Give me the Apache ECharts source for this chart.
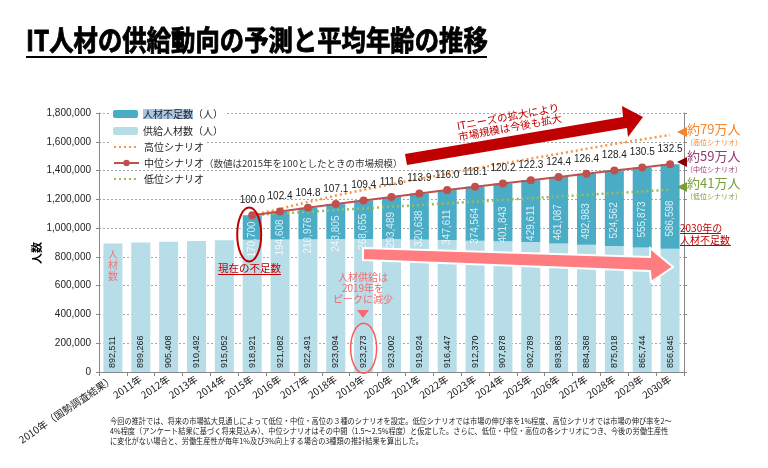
<!DOCTYPE html>
<html><head><meta charset="utf-8">
<script src="https://cdn.jsdelivr.net/npm/echarts@6/dist/echarts.min.js"></script>
<style>html,body{margin:0;padding:0;background:#fff}#c{width:768px;height:468px}</style>
</head><body><div id="c"></div>
<script>
// ---- data ----
const categories = ['2010年（国勢調査結果）','2011年','2012年','2013年','2014年','2015年','2016年','2017年','2018年','2019年','2020年','2021年','2022年','2023年','2024年','2025年','2026年','2027年','2028年','2029年','2030年'];
const supply = [892511,899266,905408,910492,915052,918921,921082,922491,923094,923273,923002,919924,916447,912370,907878,902789,893863,884368,875018,865744,856845];
const shortage = [null,null,null,null,null,170700,194608,218976,243805,268655,293489,320638,347611,374564,401843,429611,461087,492983,524562,555873,586598];
const marketIndex = [null,null,null,null,null,100.0,102.4,104.8,107.1,109.4,111.6,113.9,116.0,118.1,120.2,122.3,124.4,126.4,128.4,130.5,132.5];
const highScenario = [null,null,null,null,null,1089621,1135000,1181000,1226000,1266000,1305000,1342000,1378000,1414000,1449000,1483000,1517000,1551000,1585000,1617000,1647000];
const lowScenario = [null,null,null,null,null,1089621,1101000,1113000,1125000,1137000,1149000,1160000,1172000,1184000,1196000,1208000,1220000,1232000,1243000,1255000,1267000];
const yMin = 0, yMax = 1800000, yInterval = 200000;

const midScenario = supply.map((s, i) => shortage[i] == null ? null : s + shortage[i]);
const shortageLabelPts = supply.map((s, i) => shortage[i] == null ? null : { value: [i, s + shortage[i] / 2], lab: shortage[i] }).filter(d => d);
const FONT = '"Noto Sans CJK JP","Noto Sans",sans-serif';
const fmt = v => Number(v).toLocaleString('en-US');

const chart = echarts.init(document.getElementById('c'));

function legendAt(name, top, hideSymbol) {
  const lg = {
    data: [name], left: 111, top: top, orient: 'vertical',
    itemWidth: 25, itemHeight: 8, itemGap: 0,
    backgroundColor: '#fff', padding: [1, 3, 1, 2],
    textStyle: { fontFamily: FONT, fontSize: 10, color: '#222',
      rich: { h: { backgroundColor: '#A9C5E2', fontFamily: FONT, fontSize: 10, color: '#222' },
              s: { fontFamily: FONT, fontSize: 9.5, color: '#333' } } },
    formatter: n => n === '人材不足数（人）' ? '{h|人材不足数}（人）'
                  : n === '中位シナリオ' ? '中位シナリオ{s|（数値は2015年を100としたときの市場規模）}' : n,
    selectedMode: false
  };
  if (hideSymbol) lg.itemStyle = { opacity: 0 };
  return lg;
}

const option = {
  animation: false,
  textStyle: { fontFamily: FONT },
  grid: { left: 99, right: 84, top: 113, bottom: 96, containLabel: false },
  legend: [
    legendAt('人材不足数（人）', 108),
    legendAt('供給人材数（人）', 125),
    legendAt('高位シナリオ', 141, true),
    legendAt('中位シナリオ', 157),
    legendAt('低位シナリオ', 173, true)
  ],
  xAxis: {
    type: 'category', data: categories, boundaryGap: true,
    axisLine: { lineStyle: { color: '#888' } },
    axisTick: { show: true, length: 4, lineStyle: { color: '#888' } },
    axisLabel: { interval: 0, rotate: 34, fontSize: 10, color: '#222', margin: 6, fontFamily: FONT }
  },
  yAxis: [{
    type: 'value', min: yMin, max: yMax, interval: yInterval,
    axisLine: { show: true, lineStyle: { color: '#888' } },
    axisTick: { show: true, length: 3, lineStyle: { color: '#888' } },
    axisLabel: { formatter: v => fmt(v), fontSize: 10, color: '#222', margin: 8, fontFamily: 'Liberation Sans' },
    splitLine: { lineStyle: { color: '#a8a8a8', type: [2, 2] } }
  }, {
    type: 'value', min: yMin, max: yMax, interval: yInterval, position: 'right',
    axisLine: { show: true, lineStyle: { color: '#888' } },
    axisTick: { show: true, length: 3, lineStyle: { color: '#888' } },
    axisLabel: { show: false }, splitLine: { show: false }
  }],
  series: [
    {
      name: '供給人材数（人）', type: 'bar', stack: 'a', data: supply, barWidth: 19,
      itemStyle: { color: '#B7DDE8' },
      label: { show: true, position: 'insideBottom', rotate: 90, align: 'left', verticalAlign: 'middle',
        distance: 4, formatter: p => fmt(p.value), fontSize: 9, color: '#1a1a1a', fontFamily: 'Liberation Sans' }
    },
    {
      name: '人材不足数（人）', type: 'bar', stack: 'a', data: shortage, barWidth: 19,
      itemStyle: { color: '#4BACC6' }
    },
    {
      name: 'shortageLabels', type: 'scatter', data: shortageLabelPts, symbolSize: 1, z: 5, silent: true,
      itemStyle: { color: 'rgba(0,0,0,0)' },
      label: { show: true, position: [0.5, 12.5], rotate: 90, align: 'center', verticalAlign: 'middle',
        formatter: p => fmt(p.data.lab), fontSize: 10, color: '#fff', fontFamily: 'Liberation Sans' },
      labelLayout: { hideOverlap: false }
    },
    {
      name: '高位シナリオ', type: 'line', data: highScenario, symbol: 'none', z: 3,
      lineStyle: { color: '#F79646', width: 2.5, type: [2, 3] }, itemStyle: { color: '#F79646' }
    },
    {
      name: '低位シナリオ', type: 'line', data: lowScenario, symbol: 'none', z: 3,
      lineStyle: { color: '#9BBB59', width: 2.5, type: [2, 3] }, itemStyle: { color: '#9BBB59' }
    },
    {
      name: '中位シナリオ', type: 'line', data: midScenario, symbol: 'circle', symbolSize: 8, z: 6,
      lineStyle: { color: '#C0504D', width: 2 }, itemStyle: { color: '#C0504D' },
      label: { show: true, position: 'top', distance: 6, fontSize: 10, color: '#222', fontFamily: 'Liberation Sans',
        formatter: p => marketIndex[p.dataIndex].toFixed(1) }
    }
  ]
};
chart.setOption(option);

// ---- annotations ----
const px = (i, v) => chart.convertToPixel({ xAxisIndex: 0, yAxisIndex: 0 }, [i, v]);
const p2015 = px(5, 955000);
const p2019 = px(9, 165000);

const graphics = [
  { type: 'text', x: 26, y: 40, scaleX: 0.87, z: 100,
    style: { text: 'IT人材の供給動向の予測と平均年齢の推移', fontSize: 28, fontWeight: 'bold', fontFamily: FONT, fill: '#000', stroke: '#000', lineWidth: 0.9, verticalAlign: 'middle' } },
  { type: 'rect', shape: { x: 26, y: 56, width: 461, height: 2 }, style: { fill: '#000' }, z: 100 },
  { type: 'text', x: 37, y: 253, rotation: Math.PI / 2, z: 100,
    style: { text: '人数', fontSize: 11, fontWeight: 'bold', fontFamily: FONT, fill: '#000', align: 'center', verticalAlign: 'middle' } },
  { type: 'text', x: 113, y: 265, z: 100,
    style: { text: '人\n材\n数', fontSize: 10, lineHeight: 11, fontFamily: FONT, fill: '#F0757A', align: 'center', verticalAlign: 'middle' } },
  // red ellipse around 2015
  { type: 'ellipse', shape: { cx: p2015[0] - 3, cy: p2015[1], rx: 12, ry: 27 }, style: { fill: 'none', stroke: '#C00000', lineWidth: 2 }, z: 100 },
  { type: 'text', x: 218, y: 268, z: 100, style: { text: '現在の不足数', fontSize: 10.5, fontFamily: FONT, fill: '#C00000', verticalAlign: 'middle' } },
  { type: 'rect', shape: { x: 218, y: 274, width: 63, height: 1 }, style: { fill: '#C00000' }, z: 100 },
  // pink arrow
  { type: 'polygon', shape: { points: [[363,248],[650,257],[650,248],[673,267],[651,282],[650,271],[363,260]] },
    style: { fill: '#FF7C80', stroke: '#fff', lineWidth: 2 }, z: 90 },
  { type: 'text', x: 363, y: 288, z: 100,
    style: { text: '人材供給は\n2019年を\nピークに減少', fontSize: 10, lineHeight: 11, fontFamily: FONT, fill: '#F46A6E', align: 'center', verticalAlign: 'middle' } },
  { type: 'polygon', shape: { points: [[357,310],[369,310],[363,318]] }, style: { fill: '#F46A6E' }, z: 100 },
  { type: 'ellipse', shape: { cx: p2019[0], cy: p2019[1], rx: 13, ry: 25 }, style: { fill: 'none', stroke: '#FF5A5A', lineWidth: 1.5 }, z: 100 },
  // dark red arrow
  { type: 'polygon', shape: { points: [[405,154],[623,117],[622,106],[643,117],[628,137],[627,128],[407,165]] },
    style: { fill: '#C00000' }, z: 90 },
  { type: 'text', x: 509, y: 122, rotation: 0.183, z: 100,
    style: { text: 'ITニーズの拡大により\n市場規模は今後も拡大', fontSize: 10.5, lineHeight: 11, fontFamily: FONT, fill: '#C00000', align: 'center', verticalAlign: 'middle' } },
  // right annotations
  { type: 'polygon', shape: { points: [[677,132],[687,127],[687,137]] }, style: { fill: '#F5842A' }, z: 100 },
  { type: 'polygon', shape: { points: [[677,162],[687,157],[687,167]] }, style: { fill: '#8B0000' }, z: 100 },
  { type: 'polygon', shape: { points: [[677,187],[687,182],[687,192]] }, style: { fill: '#77A03A' }, z: 100 },
  { type: 'text', x: 687, y: 129, z: 100, style: { text: '約79万人', fontSize: 13, fontFamily: FONT, fill: '#F5842A', verticalAlign: 'middle' } },
  { type: 'text', x: 714, y: 142, z: 100, style: { text: '（高位シナリオ）', fontSize: 7, fontFamily: FONT, fill: '#F5842A', align: 'center', verticalAlign: 'middle' } },
  { type: 'text', x: 687, y: 156, z: 100, style: { text: '約59万人', fontSize: 13, fontFamily: FONT, fill: '#943A72', verticalAlign: 'middle' } },
  { type: 'text', x: 714, y: 169, z: 100, style: { text: '（中位シナリオ）', fontSize: 7, fontFamily: FONT, fill: '#943A72', align: 'center', verticalAlign: 'middle' } },
  { type: 'text', x: 687, y: 183, z: 100, style: { text: '約41万人', fontSize: 13, fontFamily: FONT, fill: '#77A03A', verticalAlign: 'middle' } },
  { type: 'text', x: 714, y: 196, z: 100, style: { text: '（低位シナリオ）', fontSize: 7, fontFamily: FONT, fill: '#77A03A', align: 'center', verticalAlign: 'middle' } },
  { type: 'text', x: 680, y: 234, z: 100,
    style: { text: '2030年の\n人材不足数', fontSize: 10, lineHeight: 12, fontFamily: FONT, fill: '#C00000', verticalAlign: 'middle' } },
  { type: 'rect', shape: { x: 680, y: 233, width: 41, height: 1 }, style: { fill: '#C00000' }, z: 100 },
  { type: 'rect', shape: { x: 680, y: 245, width: 51, height: 1 }, style: { fill: '#C00000' }, z: 100 },
  // footnote
  { type: 'text', x: 110, y: 421, scaleX: 0.9, z: 100, style: { text: '今回の推計では、将来の市場拡大見通しによって低位・中位・高位の３種のシナリオを設定。低位シナリオでは市場の伸び率を1%程度、高位シナリオでは市場の伸び率を2～', fontSize: 8, fontFamily: FONT, fill: '#222', verticalAlign: 'middle' } },
  { type: 'text', x: 110, y: 431, scaleX: 0.9, z: 100, style: { text: '4%程度（アンケート結果に基づく将来見込み）、中位シナリオはその中間（1.5～2.5%程度）と仮定した。さらに、低位・中位・高位の各シナリオにつき、今後の労働生産性', fontSize: 8, fontFamily: FONT, fill: '#222', verticalAlign: 'middle' } },
  { type: 'text', x: 110, y: 441, scaleX: 0.9, z: 100, style: { text: 'に変化がない場合と、労働生産性が毎年1%及び3%向上する場合の3種類の推計結果を算出した。', fontSize: 8, fontFamily: FONT, fill: '#222', verticalAlign: 'middle' } }
];
chart.setOption({ graphic: graphics });
</script></body></html>
